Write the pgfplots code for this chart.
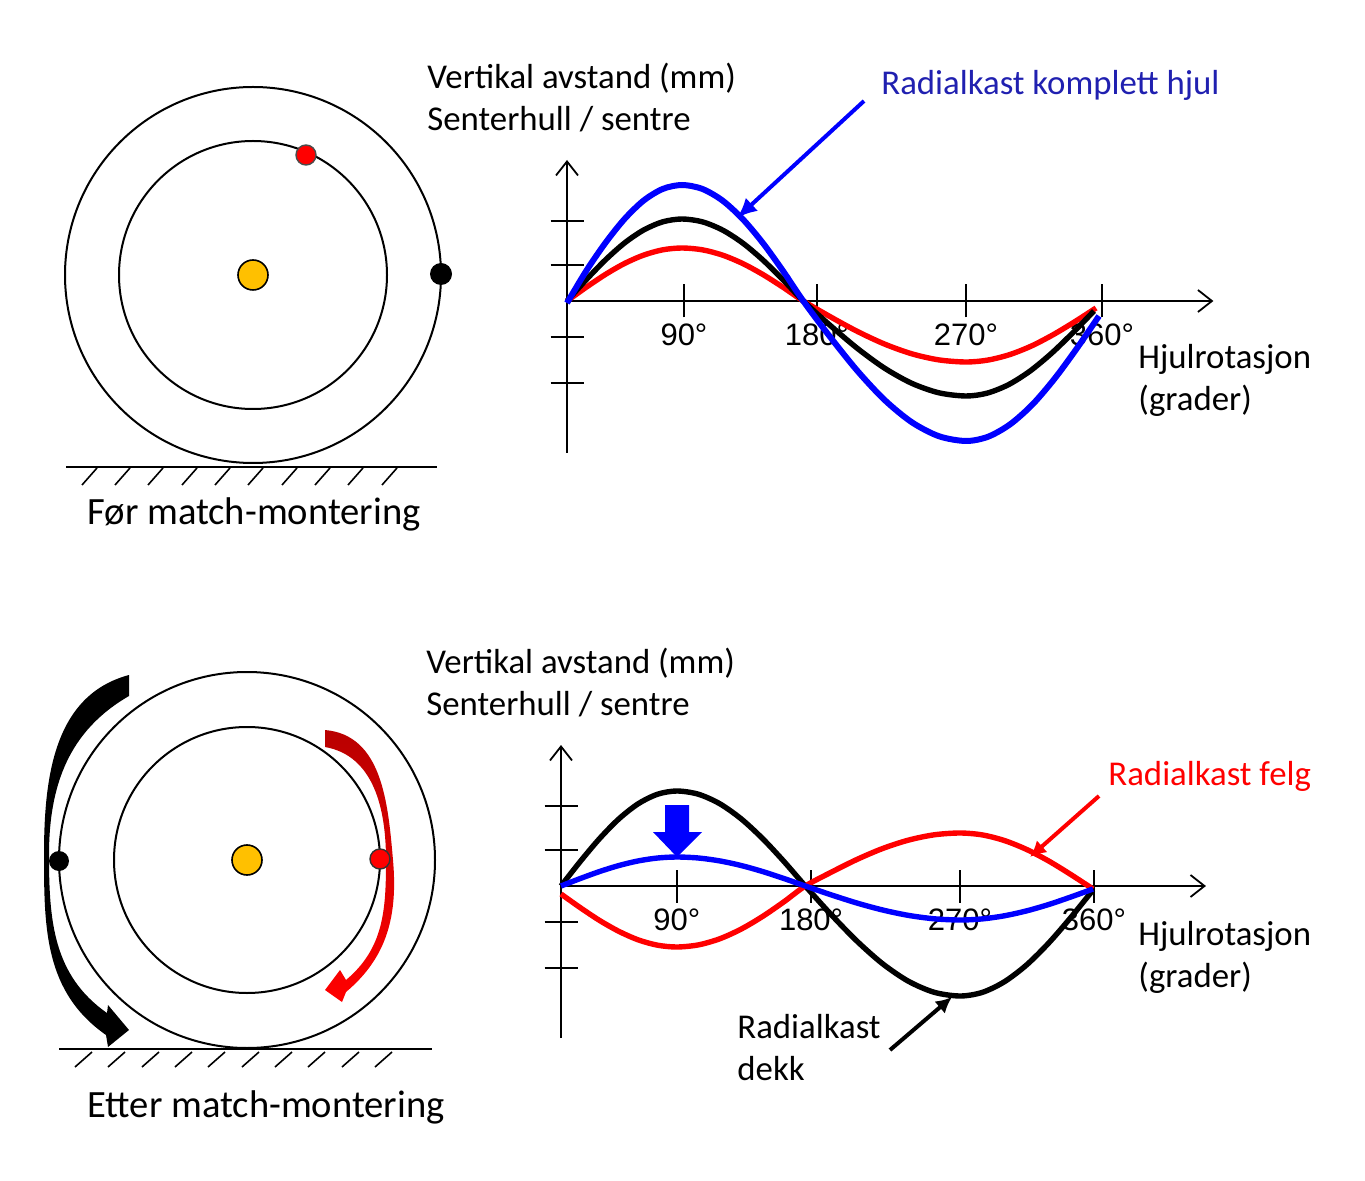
\documentclass[border=0pt]{standalone}
\usepackage{fontspec}
\setmainfont{Carlito}
\newfontfamily\arialfont{Liberation Sans}
\usepackage{pgfplots}
\pgfplotsset{compat=1.18}
\usetikzlibrary{arrows.meta}

\definecolor{cblue}{RGB}{0,0,255}
\definecolor{cred}{RGB}{255,0,0}
\definecolor{cdarkred}{RGB}{185,0,0}
\definecolor{cnavy}{RGB}{32,32,176}
\definecolor{cgold}{RGB}{255,192,0}

\newcommand\lblfont{\fontsize{17.4}{20}\selectfont}
\newcommand\capfont{\fontsize{19.3}{22}\selectfont}

% one pixel of the reference = 0.5pt, y counted downwards as negative
\pgfplotsset{
  wave/.style={
    set layers,
    anchor=origin, axis lines=middle, clip=false,
    ytick={-82,-36,36,80}, yticklabel style={opacity=0},
    xticklabels={90°,180°,270°,360°},
    tick align=center, major tick length=16.5pt,
    tick style={black, line width=0.9pt},
    axis line style={black, line width=0.9pt},
    x axis line style={-{Straight Barb[length=7pt,width=11pt]}},
    y axis line style={-{Straight Barb[length=7pt,width=11pt]}},
    xticklabel style={font=\arialfont\fontsize{15.5}{18}\selectfont,
      inner sep=0pt, anchor=north, yshift=-3pt},
  },
  curve/.style={smooth, mark=none, line width=2.7pt},
}

\begin{document}
\begin{tikzpicture}[x=0.5pt, y=0.5pt]
\path (0,0) rectangle (1365,-1181);

% ---------- top wheel ----------
\draw[line width=1pt] (253,-275) circle[radius=188];
\draw[line width=1pt] (253,-275) circle[radius=134];
\draw[fill=cgold, line width=0.8pt] (253,-275) circle[radius=15];
\draw[fill=cred, draw=black!70, line width=0.7pt] (306,-155) circle[radius=10];
\fill[black] (441,-274) circle[radius=11];
\draw[line width=1pt] (66,-467) -- (437,-467);
\foreach \x in {82,115,148,182,215,248,282,315,348,382}
  \draw[line width=0.8pt] (\x,-485) -- ++(15,17);
\node[anchor=base west, inner sep=0pt, font=\capfont] at (87,-525) {Før match-montering};

% ---------- top chart (origin at pixel 567,301) ----------
\begin{axis}[wave, at={(283.5pt,-150.5pt)}, x=0.743pt, y=0.5pt,
  xmin=0, xmax=435, ymin=-152, ymax=141,
  xtick={78.7,168.2,268.5,360}]
\addplot[curve, cred] coordinates {
 (0,0) (12.9,13.7) (25.8,26.5) (38.7,37.5) (51.6,45.9) (64.5,51.2) (77.4,53)
 (91.0,51.2) (104.6,45.9) (118.2,37.5) (131.8,26.5) (145.4,13.7) (159,0)
 (177.25,-15.8) (195.5,-30.5) (213.75,-43.1) (232,-52.8) (250.25,-58.9) (268.5,-61)
 (283.1,-59.1) (297.7,-53.7) (312.25,-45.2) (326.8,-34.0) (341.4,-21.0) (356,-7)
};
\addplot[curve, black] coordinates {
 (0,0) (12.9,21.2) (25.8,41.0) (38.7,58.0) (51.6,71.0) (64.5,79.2) (77.4,82)
 (91.0,79.2) (104.6,71.0) (118.2,58.0) (131.8,41.0) (145.4,21.2) (159,0)
 (177.25,-24.6) (195.5,-47.5) (213.75,-67.2) (232,-82.3) (250.25,-91.8) (268.5,-95)
 (282.85,-92.1) (297.2,-83.6) (311.55,-70.1) (325.9,-52.5) (340.25,-32.0) (354.6,-10)
};
\addplot[curve, cblue, line width=3pt] coordinates {
 (0,-2) (12.9,30.0) (25.8,58.0) (38.7,82.0) (51.6,100.5) (64.5,112.1) (77.4,116)
 (91.0,112.1) (104.6,100.5) (118.2,82.0) (131.8,58.0) (145.4,30.0) (159,0)
 (177.25,-36.3) (195.5,-70.0) (213.75,-99.0) (232,-121.2) (250.25,-135.2) (268.5,-140)
 (283.4,-135.7) (298.3,-123.2) (313.3,-103.4) (328.2,-77.5) (343.1,-47.4) (358,-15)
};
\end{axis}

\node[anchor=base west, inner sep=0pt, font=\lblfont] at (427,-89) {Vertikal avstand (mm)};
\node[anchor=base west, inner sep=0pt, font=\lblfont] at (427,-131) {Senterhull / sentre};
\node[anchor=base west, inner sep=0pt, font=\lblfont, text=cnavy] at (881,-95) {Radialkast komplett hjul};
\node[anchor=base west, inner sep=0pt, font=\lblfont] at (1138,-369) {Hjulrotasjon};
\node[anchor=base west, inner sep=0pt, font=\lblfont] at (1138,-411) {(grader)};
\draw[cblue, line width=2pt, -{Latex[length=10pt,width=9pt]}] (864,-101) -- (737,-218);

% ---------- bottom wheel ----------
\draw[line width=1pt] (247,-860) circle[radius=188];
\draw[line width=1pt] (247,-860) circle[radius=133];
\draw[fill=cgold, line width=0.8pt] (247,-860) circle[radius=15];
\fill[black] (129,-675) to[out=195,in=90] (44,-855) to[out=-90,in=145] (106,-1035)
  -- (108,-1047) -- (129,-1030) -- (108,-1005) -- (107,-1013)
  to[out=145,in=-90] (49,-855) to[out=90,in=210] (129,-696) -- cycle;
\fill[black] (59,-861) circle[radius=10];
\path[top color=cdarkred, bottom color=cred]
  (325,-730) to[out=-5,in=95] (393,-860) to[out=-85,in=40] (346,-992)
  -- (342,-1002) -- (325,-990) -- (340,-970) -- (346,-980)
  to[out=40,in=-90] (386,-860) to[out=90,in=-10] (325,-747) -- cycle;
\draw[fill=cred, draw=black!80, line width=0.7pt] (380,-859) circle[radius=10];
\draw[line width=1pt] (59,-1049) -- (432,-1049);
\foreach \x in {75,108,142,175,208,242,275,308,342,375}
  \draw[line width=0.8pt] (\x,-1067) -- ++(17,15);
\node[anchor=base west, inner sep=0pt, font=\capfont] at (87,-1117) {Etter match-montering};

% ---------- bottom chart (origin at pixel 561,886) ----------
\begin{axis}[wave, at={(280.5pt,-443pt)}, x=0.7403pt, y=0.5pt,
  xmin=0, xmax=435.6, ymin=-152, ymax=141,
  xtick={78.3,168.9,269.5,360}]
\addplot[curve, black] coordinates {
 (0,0) (13.05,24.6) (26.1,47.5) (39.15,67.2) (52.2,82.3) (65.25,91.8) (78.3,95)
 (92.75,91.8) (107.2,82.3) (121.65,67.2) (136.1,47.5) (150.55,24.6) (165,0)
 (182.4,-28.5) (199.8,-55.0) (217.25,-77.8) (234.7,-95.3) (252.1,-106.3) (269.5,-110)
 (284.5,-106.4) (299.4,-95.8) (314.4,-79.0) (329.4,-57.0) (344.3,-31.5) (359.3,-4)
};
\addplot[curve, cred] coordinates {
 (0,-8) (13.05,-21.7) (26.1,-34.5) (39.15,-45.4) (52.2,-53.9) (65.25,-59.2) (78.3,-61)
 (92.75,-58.9) (107.2,-52.8) (121.65,-43.1) (136.1,-30.5) (150.55,-15.8) (165,0)
 (182.4,13.7) (199.8,26.5) (217.25,37.5) (234.7,45.9) (252.1,51.2) (269.5,53)
 (284.5,51.1) (299.4,45.5) (314.4,36.6) (329.4,25.0) (344.3,11.5) (359.3,-3)
};
\addplot[curve, cblue] coordinates {
 (0,0) (13.05,7.5) (26.1,14.5) (39.15,20.5) (52.2,25.1) (65.25,28.0) (78.3,29)
 (92.75,28.0) (107.2,25.1) (121.65,20.5) (136.1,14.5) (150.55,7.5) (165,0)
 (182.4,-8.8) (199.8,-17.0) (217.25,-24.0) (234.7,-29.4) (252.1,-32.8) (269.5,-34)
 (284.5,-32.9) (299.4,-29.8) (314.4,-24.9) (329.4,-18.5) (344.3,-11.0) (359.3,-3)
};
\end{axis}

\fill[cblue] (665,-805) -- (689,-805) -- (689,-832) -- (702,-832) -- (677,-857)
  -- (653,-832) -- (665,-832) -- cycle;
\node[anchor=base west, inner sep=0pt, font=\lblfont] at (426,-673) {Vertikal avstand (mm)};
\node[anchor=base west, inner sep=0pt, font=\lblfont] at (426,-715) {Senterhull / sentre};
\node[anchor=base west, inner sep=0pt, font=\lblfont, text=cred] at (1108,-785) {Radialkast felg};
\node[anchor=base west, inner sep=0pt, font=\lblfont] at (1138,-945) {Hjulrotasjon};
\node[anchor=base west, inner sep=0pt, font=\lblfont] at (1138,-987) {(grader)};
\node[anchor=base west, inner sep=0pt, font=\lblfont] at (737,-1038) {Radialkast};
\node[anchor=base west, inner sep=0pt, font=\lblfont] at (737,-1080) {dekk};
\draw[cred, line width=2pt, -{Latex[length=8pt,width=8pt]}] (1099,-796) -- (1030,-857);
\draw[black, line width=2pt, -{Latex[length=8pt,width=8pt]}] (890,-1050) -- (952,-997);
\end{tikzpicture}
\end{document}
